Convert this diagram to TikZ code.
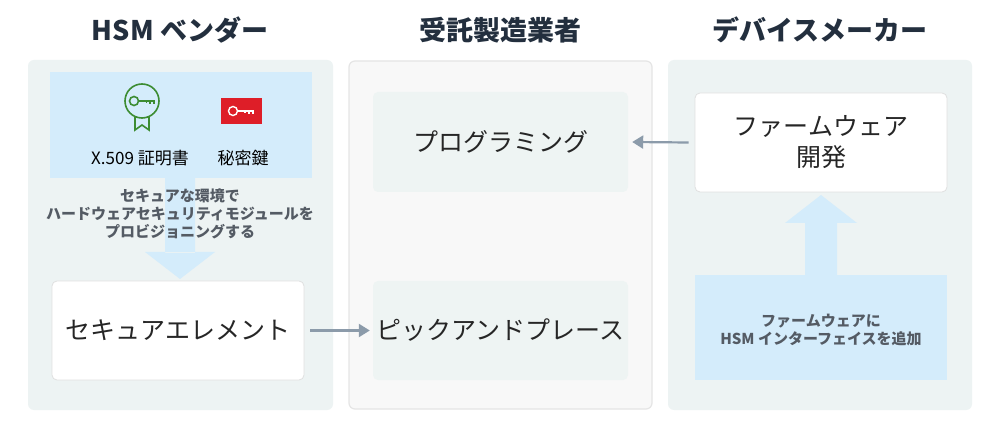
\documentclass[tikz,border=0pt]{standalone}
\usepackage{fontspec}
\usetikzlibrary{arrows.meta}
\setmainfont{Noto Sans CJK JP}
\definecolor{pbg}{HTML}{EDF3F3}
\definecolor{mbg}{HTML}{F8F8F8}
\definecolor{lb}{HTML}{D4ECFB}
\definecolor{ib}{HTML}{EEF4F3}
\definecolor{ar}{HTML}{8C9BAA}
\definecolor{tt}{HTML}{232F3E}
\definecolor{st}{HTML}{545B64}
\definecolor{cg}{HTML}{3C8C32}
\definecolor{kr}{HTML}{DE1E28}
\begin{document}
\begin{tikzpicture}[x=1pt,y=-1pt,
 box/.style={fill=white,draw=black!12,rounded corners=5pt,line width=0.8pt},
 title/.style={font=\bfseries\fontsize{27}{30}\selectfont,text=tt},
 big/.style={font=\fontsize{25}{31}\selectfont,text=black!85,align=center},
 small/.style={font=\bfseries\fontsize{15}{18}\selectfont,text=st,align=center},
 conn/.style={draw=ar,line width=2.2pt,-{Triangle[length=11pt,width=13pt]}}]
\useasboundingbox (0,0) rectangle (1000,435);
\fill[white] (0,0) rectangle (1000,435);
\node[title] (t1) at (180,30) {HSM ベンダー};
\node[title] (t2) at (500,30) {受託製造業者};
\node[title] (t3) at (820,30) {デバイスメーカー};
\fill[pbg,rounded corners=6pt] (28,60) rectangle (333,410);
\filldraw[fill=mbg,draw=black!10,line width=1.2pt,rounded corners=6pt] (349,61) rectangle (652,409);
\fill[pbg,rounded corners=6pt] (668,60) rectangle (972,410);
% left
\fill[lb] (50,72) rectangle (312,178);
\fill[lb] (165,178) rectangle (195,253) (145,252) -- (215,252) -- (180,279) -- cycle;
\begin{scope}[draw=cg,line width=1.6pt]
\draw (142,101) circle (17);
\draw (135,117) -- (135,130) -- (142,125) -- (149,130) -- (149,117);
\draw (134,101) circle (4.5);
\draw (138.5,101) -- (154,101) -- (154,104.5) (150,101)--(150,104.5) (146.5,101)--(146.5,103.5);
\end{scope}
\fill[kr] (221,98) rectangle (262,124);
\begin{scope}[draw=white,line width=1.4pt]
\draw (233,111) circle (4.5);
\draw (237.5,111) -- (253,111) -- (253,114) (249,111)--(249,114) (245,111)--(245,113.5);
\end{scope}
\node[font=\fontsize{17}{20}\selectfont] (c1) at (140,158) {X.509 証明書};
\node[font=\fontsize{17}{20}\selectfont] (c2) at (243,158) {秘密鍵};
\node[small] (p1) at (180,214) {セキュアな環境で\\ハードウェアセキュリティモジュールを\\プロビジョニングする};
\node[box,minimum width=252pt,minimum height=99pt,big] (se) at (178,330.5) {セキュアエレメント};
% middle
\node[fill=ib,rounded corners=5pt,minimum width=255pt,minimum height=100pt,big] (pg) at (500.5,142) {プログラミング};
\node[fill=ib,rounded corners=5pt,minimum width=255pt,minimum height=99pt,big] (pp) at (500.5,330.5) {ピックアンドプレース};
% right
\node[box,minimum width=252pt,minimum height=99pt,big] (fw) at (821,142.5) {ファームウェア\\開発};
\fill[lb] (695,275) rectangle (947,380);
\fill[lb] (805,222) rectangle (837,276) (785,223) -- (857,223) -- (821,195) -- cycle;
\node[small] (hi) at (821,330) {ファームウェアに\\HSM インターフェイスを追加};
\coordinate (fa) at ([xshift=-6pt]fw.west);
\coordinate (sa) at ([xshift=6pt]se.east);
\draw[conn] (fa) -- ([xshift=4pt]pg.east);
\draw[conn] (sa) -- ([xshift=-3pt]pp.west);
\end{tikzpicture}
\end{document}
